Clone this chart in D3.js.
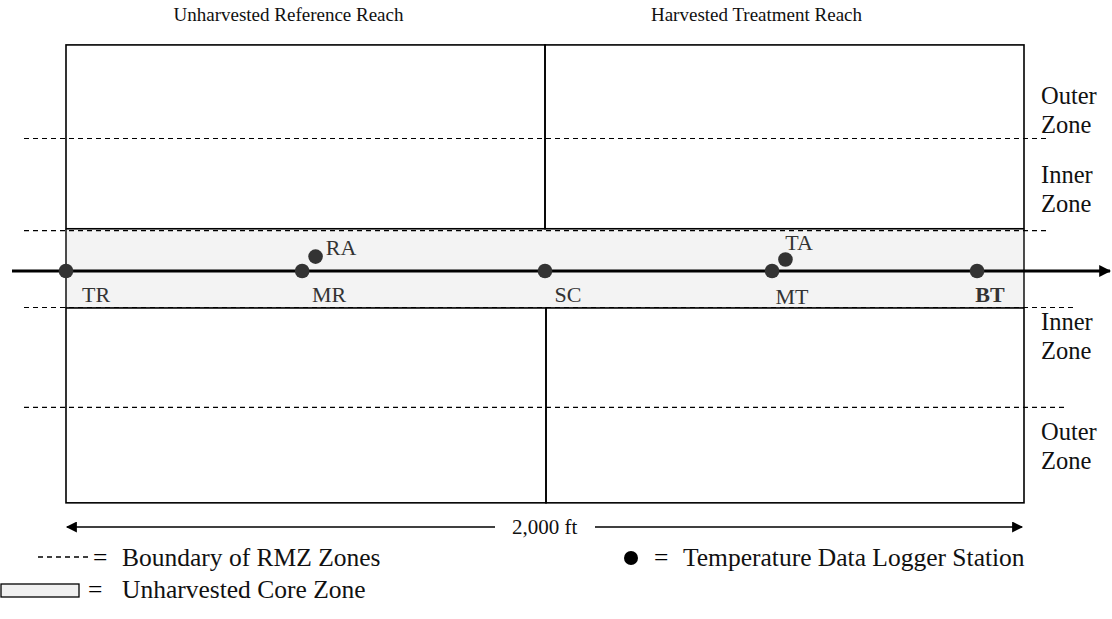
<!DOCTYPE html>
<html><head><meta charset="utf-8">
<script src="https://cdn.jsdelivr.net/npm/d3@7"></script>
<style>body{margin:0;background:#fff}svg{display:block}text{font-family:"Liberation Serif","Times New Roman",serif}</style>
</head><body><div id="c"></div>
<script>
// ---- data ----
const reaches = ["Unharvested Reference Reach", "Harvested Treatment Reach"];
const reachStart = [0, 1000];      // ft along stream
const reachEnd = [1000, 2000];
const stations = ["TR", "MR", "RA", "SC", "MT", "TA", "BT"];
const stationFt = [0, 493, 521, 1000, 1474, 1502, 1902];   // distance along stream (ft)
const stationOffset = [0, 0, 30, 0, 0, 24, 0];              // lateral offset from stream (ft, +up)
const zoneLabels = ["Outer\nZone", "Inner\nZone", "Inner\nZone", "Outer\nZone"];
const zoneBoundaries = [276, 84, -76, -284];                 // dashed RMZ boundaries (ft lateral)
const coreEdges = [88, -77];                                 // unharvested core zone edges
const plotEdges = [471, -483];                               // outer edges of riparian area
const scaleBarLabel = "2,000 ft";
const legendItems = ["Boundary of RMZ Zones", "Temperature Data Logger Station", "Unharvested Core Zone"];

const W = 1112, H = 619;
const svg = d3.select("#c").append("svg").attr("width", W).attr("height", H);
const x = d3.scaleLinear().domain([0, 2000]).range([66, 1024]);
const y = d3.scaleLinear().domain([0, 100]).range([271, 223]);  // lateral ft -> px

// titles
const titleShift = [-17, -28];
reaches.forEach((r, i) => {
  svg.append("text").attr("x", (x(reachStart[i]) + x(reachEnd[i])) / 2 + titleShift[i]).attr("y", 21)
    .attr("text-anchor", "middle").attr("font-size", 19).attr("fill", "#111").text(r);
});

// core band
svg.append("rect").attr("x", x(0)).attr("y", y(coreEdges[0])).attr("width", x(2000) - x(0))
  .attr("height", y(coreEdges[1]) - y(coreEdges[0])).attr("fill", "#f3f3f3");

// boxes (top & bottom per reach)
reaches.forEach((r, i) => {
  const xs = x(reachStart[i]), xe = x(reachEnd[i]);
  [[plotEdges[0], coreEdges[0]], [coreEdges[1], plotEdges[1]]].forEach((p, j) => {
    const dx = j === 1 ? 1 : 0;
    svg.append("rect").attr("x", i === 0 ? xs : xs + dx).attr("y", y(p[0]))
      .attr("width", i === 0 ? xe - xs + dx : xe - xs - dx).attr("height", y(p[1]) - y(p[0]))
      .attr("fill", "none").attr("stroke", "#000").attr("stroke-width", 1.6);
  });
});
// continuous side lines through core zone
[0, 2000].forEach(d => svg.append("line").attr("x1", x(d)).attr("x2", x(d))
  .attr("y1", y(coreEdges[0])).attr("y2", y(coreEdges[1])).attr("stroke", "#000").attr("stroke-width", 1.4));

// dashed RMZ boundaries
const dashEnds = [1050, 1050, 1076, 1064];
zoneBoundaries.forEach((b, i) => {
  svg.append("line").attr("x1", 24).attr("x2", dashEnds[i]).attr("y1", y(b)).attr("y2", y(b))
    .attr("stroke", "#000").attr("stroke-width", 1.2).attr("stroke-dasharray", "5,4");
});

// stream axis with arrow
const defs = svg.append("defs");
defs.append("marker").attr("id", "ah").attr("viewBox", "0 0 10 10").attr("refX", 9).attr("refY", 5)
  .attr("markerWidth", 4).attr("markerHeight", 4).attr("orient", "auto-start-reverse")
  .append("path").attr("d", "M0,0L10,5L0,10z").attr("fill", "#000");
defs.append("marker").attr("id", "ah2").attr("viewBox", "0 0 10 10").attr("refX", 9).attr("refY", 5)
  .attr("markerWidth", 15).attr("markerHeight", 11).attr("markerUnits", "userSpaceOnUse")
  .attr("orient", "auto-start-reverse")
  .append("path").attr("d", "M0,0L10,5L0,10z").attr("fill", "#000");
svg.append("line").attr("x1", 12).attr("x2", 1110).attr("y1", y(0)).attr("y2", y(0))
  .attr("stroke", "#000").attr("stroke-width", 3).attr("marker-end", "url(#ah)");

// zone labels
const zoneY = [104, 183, 330, 440];
zoneLabels.forEach((z, i) => {
  z.split("\n").forEach((t, k) => svg.append("text").attr("x", 1041).attr("y", zoneY[i] + k * 28.5)
    .attr("font-size", 24.5).attr("fill", "#111").text(t));
});

// stations
const labelCx = [96, 329, 341, 568, 792, 799, 990];
const labelBase = [302, 302, 255, 302, 304, 250, 302];
stations.forEach((s, i) => {
  const cx = x(stationFt[i]), cy = y(stationOffset[i]);
  svg.append("circle").attr("cx", cx).attr("cy", cy).attr("r", 7.3).attr("fill", "#333");
  svg.append("text").attr("x", labelCx[i]).attr("y", labelBase[i]).attr("text-anchor", "middle")
    .attr("font-size", 22).attr("fill", "#333").attr("font-weight", s === "BT" ? "bold" : "normal").text(s);
});

// scale bar
const sbY = 527;
svg.append("line").attr("x1", 495).attr("x2", x(0) + 1).attr("y1", sbY).attr("y2", sbY)
  .attr("stroke", "#000").attr("stroke-width", 1.6).attr("marker-end", "url(#ah2)");
svg.append("line").attr("x1", 595).attr("x2", x(2000) - 2).attr("y1", sbY).attr("y2", sbY)
  .attr("stroke", "#000").attr("stroke-width", 1.6).attr("marker-end", "url(#ah2)");
svg.append("text").attr("x", 512).attr("y", 534).attr("font-size", 21).attr("fill", "#111").text(scaleBarLabel);

// legend
svg.append("line").attr("x1", 38).attr("x2", 91).attr("y1", 557).attr("y2", 557)
  .attr("stroke", "#000").attr("stroke-width", 1.3).attr("stroke-dasharray", "5,4");
svg.append("text").attr("x", 93).attr("y", 566).attr("font-size", 25.5).text("=");
svg.append("text").attr("x", 122).attr("y", 566).attr("font-size", 25.5).attr("fill", "#111").text(legendItems[0]);

svg.append("circle").attr("cx", 631).attr("cy", 558).attr("r", 7).attr("fill", "#000");
svg.append("text").attr("x", 654).attr("y", 566).attr("font-size", 25.5).text("=");
svg.append("text").attr("x", 683).attr("y", 566).attr("font-size", 25.5).attr("fill", "#111").text(legendItems[1]);

svg.append("rect").attr("x", 1).attr("y", 584).attr("width", 78).attr("height", 13)
  .attr("fill", "#f0f0f0").attr("stroke", "#000").attr("stroke-width", 1.3);
svg.append("text").attr("x", 88).attr("y", 598).attr("font-size", 25.5).text("=");
svg.append("text").attr("x", 122).attr("y", 598).attr("font-size", 25.5).attr("fill", "#111").text(legendItems[2]);
</script></body></html>
